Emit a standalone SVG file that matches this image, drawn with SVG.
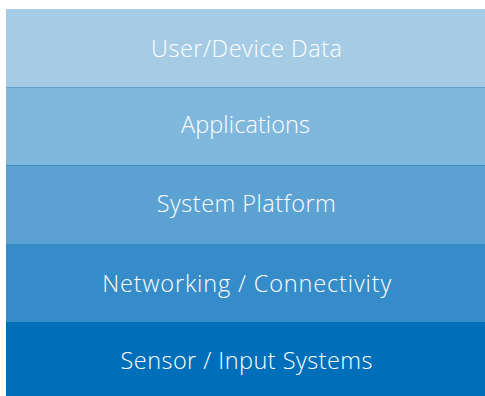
<svg xmlns="http://www.w3.org/2000/svg" width="485" height="396" viewBox="0 0 485 396">
<style>
.lbl{font-family:"Open Sans","Liberation Sans",sans-serif;font-weight:300;font-size:23.5px;fill:#ffffff;text-anchor:middle}
</style>
<rect width="485" height="396" fill="#ffffff"/>
<g id="layer-user-device-data">
<rect x="6" y="9" width="479" height="78" fill="#A6CCE5"/>
<text class="lbl" x="246.5" y="57" textLength="191" lengthAdjust="spacing">User/Device Data</text>
</g>
<g id="layer-applications">
<rect x="6" y="87" width="479" height="78" fill="#80B7DD"/>
<text class="lbl" x="245.5" y="132.5" textLength="129" lengthAdjust="spacing">Applications</text>
</g>
<g id="layer-system-platform">
<rect x="6" y="165" width="479" height="79" fill="#5BA2D2"/>
<text class="lbl" x="246.3" y="211.7" textLength="179" lengthAdjust="spacing">System Platform</text>
</g>
<g id="layer-networking">
<rect x="6" y="244" width="479" height="78" fill="#358CC9"/>
<text class="lbl" x="246.7" y="291.5" textLength="289" lengthAdjust="spacing">Networking / Connectivity</text>
</g>
<g id="layer-sensor">
<rect x="6" y="322" width="479" height="74" fill="#006FBA"/>
<text class="lbl" x="246.5" y="369" textLength="252" lengthAdjust="spacing">Sensor / Input Systems</text>
</g>
<g id="connectors">
<line x1="6" y1="87.5" x2="485" y2="87.5" stroke="#5E9FCF" stroke-width="1"/>
<line x1="6" y1="165.5" x2="485" y2="165.5" stroke="#3F8DC6" stroke-width="1"/>
</g>
</svg>
